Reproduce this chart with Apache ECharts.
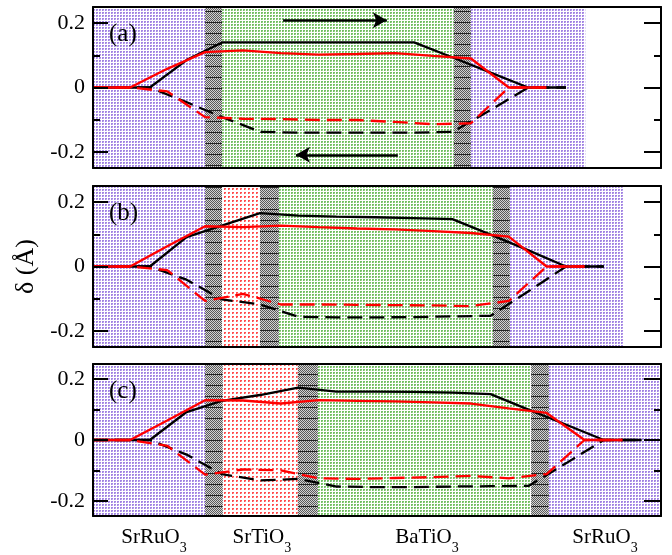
<!DOCTYPE html>
<html>
<head>
<meta charset="utf-8">
<script src="https://cdn.jsdelivr.net/npm/echarts@6/dist/echarts.min.js"></script>
<style>html,body{margin:0;padding:0;background:#fff}#c{width:672px;height:555px}</style>
</head>
<body>
<div id="c"></div>
<script>
// ---------- data ----------
const panelLabels = ['(a)', '(b)', '(c)'];
const yTicks = [-0.2, 0, 0.2];
const yMinorTicks = [-0.1, 0.1];
const layerNames = ['SrRuO3', 'SrTiO3', 'BaTiO3', 'SrRuO3'];
const layerLabelPos = [1.61, 4.46, 8.82, 13.52];

// panel (a)
const aBlackX = [0, 1.5, 2.48, 3.41, 4.43, 5.44, 6.46, 7.47, 8.48, 9.5, 10.5, 11.49, 12.49];
const aBlackSolid = [0, 0, 0.086, 0.140, 0.140, 0.140, 0.140, 0.140, 0.140, 0.093, 0.046, 0, 0];
const aBlackDashed = [0, 0, -0.046, -0.092, -0.138, -0.140, -0.140, -0.140, -0.140, -0.138, -0.070, 0, 0];
const aRedX = [0, 0.98, 1.96, 2.96, 3.96, 4.96, 5.96, 6.97, 7.97, 8.98, 9.98, 10.98, 11.97];
const aRedSolid = [0, 0, 0.058, 0.110, 0.115, 0.107, 0.102, 0.104, 0.107, 0.098, 0.090, 0, 0];
const aRedDashed = [0, 0, -0.012, -0.092, -0.097, -0.098, -0.101, -0.101, -0.107, -0.114, -0.111, 0, 0];
const aLayers = [['SRO', 0, 2.96], ['IF', 2.96, 3.41], ['BTO', 3.41, 9.53], ['IF', 9.53, 9.98], ['SRO', 9.98, 13.0]];

// panel (b)
const bBlackX = [0, 1.5, 2.47, 3.4, 4.41, 5.42, 6.43, 7.45, 8.47, 9.49, 10.5, 11.5, 12.49, 13.49];
const bBlackSolid = [0, 0, 0.091, 0.127, 0.166, 0.158, 0.155, 0.153, 0.150, 0.147, 0.099, 0.050, 0, 0];
const bBlackDashed = [0, 0, -0.041, -0.102, -0.118, -0.156, -0.158, -0.158, -0.157, -0.155, -0.153, -0.077, 0, 0];
const bRedX = [0, 0.98, 1.96, 2.96, 3.96, 4.96, 5.96, 6.97, 7.97, 8.98, 9.98, 10.98, 11.98, 12.98];
const bRedSolid = [0, 0, 0.063, 0.125, 0.122, 0.127, 0.122, 0.118, 0.115, 0.110, 0.104, 0.093, 0, 0];
const bRedDashed = [0, 0, -0.011, -0.107, -0.085, -0.118, -0.118, -0.119, -0.120, -0.121, -0.123, -0.107, 0, 0];
const bLayers = [['SRO', 0, 2.96], ['IF', 2.96, 3.41], ['STO', 3.41, 4.41], ['IF', 4.41, 4.91], ['BTO', 4.91, 10.56], ['IF', 10.56, 11.01], ['SRO', 11.01, 14.0]];

// panel (c)
const cBlackX = [0, 1.5, 2.47, 3.4, 4.41, 5.42, 6.43, 7.45, 8.47, 9.49, 10.5, 11.5, 12.5, 13.49, 14.49];
const cBlackSolid = [0, 0, 0.092, 0.129, 0.148, 0.172, 0.159, 0.159, 0.158, 0.156, 0.151, 0.100, 0.050, 0, 0];
const cBlackDashed = [0, 0, -0.048, -0.112, -0.133, -0.128, -0.153, -0.155, -0.155, -0.153, -0.152, -0.151, -0.076, 0, 0];
const cRedX = [0, 0.98, 1.96, 2.96, 3.96, 4.96, 5.96, 6.97, 7.97, 8.98, 9.98, 10.98, 11.98, 12.98, 13.98];
const cRedSolid = [0, 0, 0.064, 0.131, 0.130, 0.120, 0.131, 0.129, 0.127, 0.124, 0.120, 0.104, 0.089, 0, 0];
const cRedDashed = [0, 0, -0.019, -0.114, -0.097, -0.100, -0.126, -0.128, -0.125, -0.122, -0.118, -0.126, -0.112, 0, 0];
const cLayers = [['SRO', 0, 2.96], ['IF', 2.96, 3.43], ['STO', 3.43, 5.41], ['IF', 5.41, 5.94], ['BTO', 5.94, 11.57], ['IF', 11.57, 12.04], ['SRO', 12.04, 15.0]];

// polarization arrows in panel (a): [x, y] start -> end
const arrowRight = [[5.02, 0.209], [7.76, 0.209]];
const arrowLeft = [[8.05, -0.209], [5.36, -0.209]];

// ---------- chart ----------
const SERIF = '"Liberation Serif", "Times New Roman", serif';

function pattern(w, h, draw) {
  const cv = document.createElement('canvas');
  cv.width = w; cv.height = h;
  const g = cv.getContext('2d');
  draw(g);
  return { image: cv, repeat: 'repeat' };
}
const patterns = {
  SRO: pattern(3, 3, g => { g.fillStyle = '#fff'; g.fillRect(0, 0, 3, 3); g.fillStyle = '#a285e2'; g.fillRect(0, 0, 2, 2); g.fillStyle = '#c4aef0'; g.fillRect(1, 1, 1, 1); }),
  BTO: pattern(3, 3, g => { g.fillStyle = '#fff'; g.fillRect(0, 0, 3, 3); g.fillStyle = '#74bf64'; g.fillRect(0, 0, 2, 2); g.fillStyle = '#a3d496'; g.fillRect(1, 1, 1, 1); }),
  STO: pattern(4, 4, g => { g.fillStyle = '#fff'; g.fillRect(0, 0, 4, 4); g.fillStyle = '#ff4e4e'; g.fillRect(0, 0, 2, 2); g.fillStyle = '#ffa0a0'; g.fillRect(1, 1, 1, 1); }),
  IF: pattern(2, 22, g => {
    for (let y = 0; y < 22; y++) for (let x = 0; x < 2; x++) {
      g.fillStyle = ((x + y) % 2 === 0) ? '#5a5a5a' : '#d2d2d2';
      g.fillRect(x, y, 1, 1);
    }
    g.fillStyle = '#222'; g.fillRect(0, 0, 2, 1); g.fillRect(0, 11, 2, 1);
  })
};

const panels = [
  { top: 7, height: 161, bx: aBlackX, bs: aBlackSolid, bd: aBlackDashed, rx: aRedX, rs: aRedSolid, rd: aRedDashed, layers: aLayers },
  { top: 186, height: 161, bx: bBlackX, bs: bBlackSolid, bd: bBlackDashed, rx: bRedX, rs: bRedSolid, rd: bRedDashed, layers: bLayers },
  { top: 364, height: 163, bx: cBlackX, bs: cBlackSolid, bd: cBlackDashed, rx: cRedX, rs: cRedSolid, rd: cRedDashed, layers: cLayers }
];

const grid = [], xAxis = [], yAxis = [], series = [], graphic = [];
const black = '#000';
panels.forEach((p, i) => {
  grid.push({ left: 93, width: 568, top: p.top, height: p.height });
  const isLast = i === panels.length - 1;
  xAxis.push({
    gridIndex: i, type: 'value', min: 0, max: 15, position: 'bottom', z: 10,
    axisLine: { onZero: false, lineStyle: { color: black, width: 2 } },
    axisTick: { show: false }, splitLine: { show: false },
    axisLabel: isLast ? {
      show: true, customValues: layerLabelPos, margin: 11,
      formatter: v => {
        const idx = layerLabelPos.findIndex(q => Math.abs(q - v) < 1e-6);
        const n = layerNames[idx] || '';
        return '{m|' + n.slice(0, -1) + '}{s|' + n.slice(-1) + '}';
      },
      rich: {
        m: { fontFamily: SERIF, fontSize: 21, color: black, verticalAlign: 'bottom', padding: [0, 0, 7, 0] },
        s: { fontFamily: SERIF, fontSize: 14, color: black, verticalAlign: 'bottom' }
      }
    } : { show: false }
  });
  xAxis.push({
    gridIndex: i, type: 'value', min: 0, max: 15, position: 'top', z: 10,
    axisLine: { onZero: false, lineStyle: { color: black, width: 2 } },
    axisTick: { show: false }, axisLabel: { show: false }, splitLine: { show: false }
  });
  const yBase = { gridIndex: i, type: 'value', min: -0.25, max: 0.25, z: 10, splitLine: { show: false } };
  yAxis.push(Object.assign({}, yBase, {
    position: 'left',
    axisLine: { show: true, onZero: false, lineStyle: { color: black, width: 2 } },
    axisTick: { show: true, inside: true, length: 15, customValues: yTicks, lineStyle: { color: black, width: 2 } },
    axisLabel: { show: true, customValues: yTicks, margin: 8, fontFamily: SERIF, fontSize: 22, color: black,
      formatter: v => (Math.abs(v) < 1e-9 ? '0' : v.toFixed(1)) },
    name: i === 1 ? 'δ (Å)' : '', nameLocation: 'middle', nameGap: 52,
    nameTextStyle: { fontFamily: SERIF, fontSize: 26, color: black }
  }));
  yAxis.push(Object.assign({}, yBase, {
    position: 'left', axisLine: { show: false, onZero: false },
    axisTick: { show: true, inside: true, length: 7, customValues: yMinorTicks, lineStyle: { color: black, width: 2 } },
    axisLabel: { show: false }
  }));
  yAxis.push(Object.assign({}, yBase, {
    position: 'right',
    axisLine: { show: true, onZero: false, lineStyle: { color: black, width: 2 } },
    axisTick: { show: true, inside: true, length: 17, customValues: yTicks, lineStyle: { color: black, width: 2 } },
    axisLabel: { show: false }
  }));
  yAxis.push(Object.assign({}, yBase, {
    position: 'right', axisLine: { show: false, onZero: false },
    axisTick: { show: true, inside: true, length: 7, customValues: yMinorTicks, lineStyle: { color: black, width: 2 } },
    axisLabel: { show: false }
  }));
  const xi = 2 * i, yi = 4 * i;
  // layer shading
  series.push({
    type: 'line', xAxisIndex: xi, yAxisIndex: yi, z: 1, silent: true,
    data: [[0, 0]], showSymbol: false, lineStyle: { width: 0, opacity: 0 },
    markArea: {
      silent: true, label: { show: false },
      itemStyle: { borderWidth: 0 },
      data: p.layers.map(l => [{ xAxis: l[1], itemStyle: { color: patterns[l[0]] } }, { xAxis: l[2] }])
    }
  });
  const mk = (xs, ys, color, type) => ({
    type: 'line', xAxisIndex: xi, yAxisIndex: yi, z: 3, silent: true,
    data: xs.map((x, k) => [x, ys[k]]), showSymbol: false,
    lineStyle: { color: color, width: 2.3, type: type }
  });
  series.push(mk(p.bx, p.bs, black, 'solid'));
  series.push(mk(p.bx, p.bd, black, [15, 7]));
  series.push(mk(p.rx, p.rs, '#ff0000', 'solid'));
  series.push(mk(p.rx, p.rd, '#ff0000', [15, 7]));
  graphic.push({
    type: 'text', left: 109, top: p.top + 15, z: 20,
    style: { text: panelLabels[i], font: '25px ' + SERIF, fill: black }
  });
});

// arrows (panel a)
series.push({
  type: 'line', xAxisIndex: 0, yAxisIndex: 0, z: 4, silent: true,
  data: [], showSymbol: false,
  markLine: {
    silent: true, symbol: ['none', 'arrow'], symbolSize: [12, 14],
    label: { show: false },
    lineStyle: { color: black, width: 2.5, type: 'solid' },
    data: [
      [{ coord: arrowRight[0] }, { coord: arrowRight[1] }],
      [{ coord: arrowLeft[0] }, { coord: arrowLeft[1] }]
    ]
  }
});

const chart = echarts.init(document.getElementById('c'), null, { renderer: 'canvas' });
chart.setOption({
  animation: false,
  backgroundColor: '#fff',
  grid, xAxis, yAxis, series, graphic
});
</script>
</body>
</html>
